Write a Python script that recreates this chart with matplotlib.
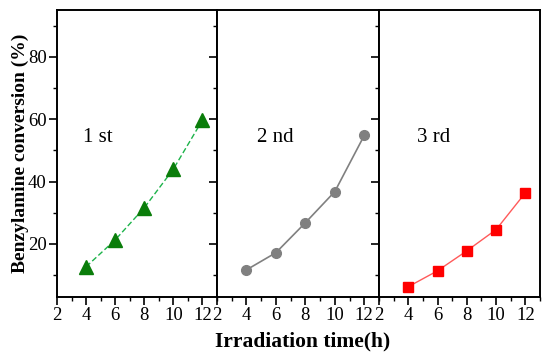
import matplotlib
matplotlib.use('Agg')
import matplotlib.pyplot as plt
from matplotlib.ticker import MultipleLocator

plt.rcParams['font.family'] = 'Liberation Serif'

# irradiation time (h)
hours = [4, 6, 8, 10, 12]
# benzylamine conversion (%) for each run
run1 = [12.7, 21.3, 31.6, 44.0, 59.7]
run2 = [11.7, 17.2, 26.8, 36.8, 54.8]
run3 = [6.3, 11.4, 17.8, 24.6, 36.4]
run_labels = ['1 st', '2 nd', '3 rd']

fig = plt.figure(figsize=(5.5, 3.59), dpi=100)

lefts = [57, 217, 379]
rights = [217, 379, 540]
label_x = [0.16, 0.247, 0.236]
styles = [
    dict(color='#1db34a', ls=(0, (4, 2)), lw=1.0, marker='^', ms=10, mfc='#0a7d0a', mec='#0a7d0a'),
    dict(color='#808080', ls='-', lw=1.2, marker='o', ms=7, mfc='#808080', mec='#808080'),
    dict(color='#ff5a5a', ls='-', lw=1.0, marker='s', ms=7.5, mfc='#ff0000', mec='#ff0000'),
]
series = [run1, run2, run3]

axes = []
for i in range(3):
    ax = fig.add_axes([lefts[i] / 550, 1 - 297 / 359, (rights[i] - lefts[i]) / 550, 287 / 359])
    ax.plot(hours, series[i], **styles[i])
    ax.set_xlim(2, 13)
    ax.set_ylim(3, 95)
    ax.xaxis.set_major_locator(MultipleLocator(2))
    ax.xaxis.set_minor_locator(MultipleLocator(1))
    ax.yaxis.set_major_locator(MultipleLocator(20))
    ax.yaxis.set_minor_locator(MultipleLocator(10))
    ax.set_xticks([2, 4, 6, 8, 10, 12])
    ax.tick_params(which='major', direction='out', length=5.5, width=1.2, labelsize=13.5, pad=2)
    ax.tick_params(which='minor', direction='out', length=3, width=1.0)
    ax.tick_params(axis='y', which='both', right=False, labelleft=(i == 0))
    ax.tick_params(axis='x', which='both', top=False)
    for s in ax.spines.values():
        s.set_linewidth(1.4)
    ax.text(label_x[i], 0.54, run_labels[i], transform=ax.transAxes, fontsize=15)
    axes.append(ax)

axes[0].set_yticks([20, 40, 60, 80])
axes[0].set_ylabel('Benzylamine conversion (%)', fontsize=14, fontweight='bold', labelpad=-1)
fig.text(303 / 550, 1 - 341 / 359, 'Irradiation time(h)', fontsize=15.5, fontweight='bold',
         ha='center', va='center')

plt.savefig('out.png', dpi=100)
